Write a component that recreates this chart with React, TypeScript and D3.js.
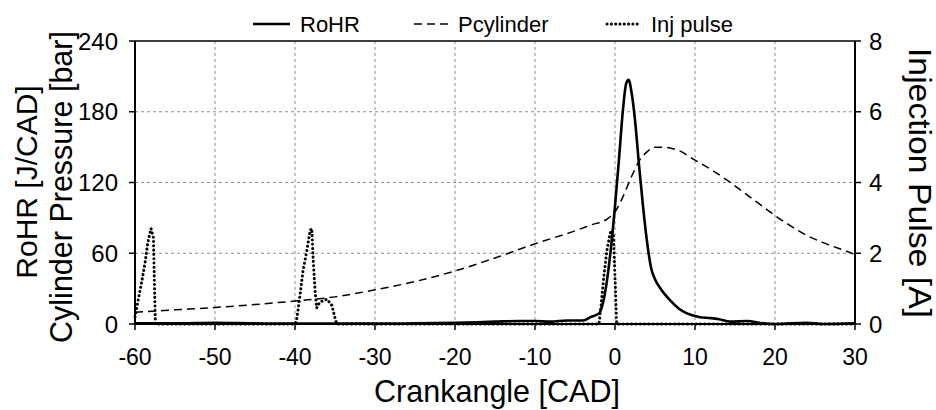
import React from "react";
import * as d3 from "d3";

const xTicks = [-60, -50, -40, -30, -20, -10, 0, 10, 20, 30];
const leftTicks = [0, 60, 120, 180, 240];
const rightTicks = [0, 2, 4, 6, 8];

const rohrCad = [-60, -55, -50, -45, -40, -35, -30, -25, -20, -15, -12, -10, -8, -6, -4, -3, -2, -1.5, -1, -0.5, 0, 0.5, 1, 1.4, 1.7, 2.1, 2.5, 3, 3.5, 4, 4.5, 5, 5.6, 6.9, 8, 9, 10.5, 12, 13, 14.4, 16.5, 18.5, 20, 24, 26, 30];
const rohrVal = [0.5, 0.5, 1, 0.5, 0.3, 0.3, 0.3, 0.5, 1, 2, 2.5, 2.5, 2, 3, 3, 6, 9, 18, 37, 65, 100, 140, 182, 204, 207, 195, 173, 135, 100, 70, 48, 38, 31, 20, 13, 9, 6, 5, 4, 2, 2.5, 0.5, 0, 1, 0, 0.5];

const pcylCad = [-60, -55, -50, -45, -40, -35, -30, -25, -20, -15, -10, -5, -3, -1, 0, 1, 2, 3, 4, 5, 6, 7, 8, 10, 12, 14, 16, 18, 20, 22, 24, 26, 28, 30];
const pcylVal = [10, 12, 14, 16.5, 19.5, 23, 29, 36, 45, 56, 68, 79, 84, 89, 95, 108, 124, 138, 146, 150, 150, 149, 147, 139, 131, 122, 112, 102, 92, 83, 75, 69, 64, 59];

const injCad = [-60, -59.6, -59.1, -58.75, -58.4, -58, -57.7, -57.6, -57.45, -40, -39.8, -39.4, -39, -38.5, -38.1, -37.9, -37.75, -37.5, -37.3, -36.9, -36, -35.4, -35, -34.8, -2, -1.75, -1.4, -1, -0.6, -0.4, -0.2, 0.05, 0.2, 30];
const injVal = [0.2, 0.68, 1.27, 1.72, 2.3, 2.7, 2.45, 1.4, 0, 0, 0.1, 0.76, 1.5, 2.1, 2.65, 2.7, 1.9, 0.96, 0.45, 0.62, 0.7, 0.53, 0.17, 0, 0, 0.5, 1.33, 2.1, 2.57, 2.65, 2.5, 1.0, 0, 0];

const W = 936, H = 410;
const L = 135, R = 855, T = 41, B = 324;
const FONT = "Liberation Sans, Arial, sans-serif";

export default function App() {
  const x = d3.scaleLinear().domain([-60, 30]).range([L, R]);
  const yL = d3.scaleLinear().domain([0, 240]).range([B, T]);
  const yR = d3.scaleLinear().domain([0, 8]).range([B, T]);

  const rohrLine = d3.line<number>().x((_, i) => x(rohrCad[i])).y((d) => yL(d)).curve(d3.curveMonotoneX)(rohrVal) || "";
  const pcylLine = d3.line<number>().x((_, i) => x(pcylCad[i])).y((d) => yL(d)).curve(d3.curveMonotoneX)(pcylVal) || "";
  const injLine = d3.line<number>().x((_, i) => x(injCad[i])).y((d) => yR(d))(injVal) || "";

  return (
    <svg width={W} height={H} style={{ position: "absolute", left: 0, top: 0 }} fontFamily={FONT}>
      <rect width={W} height={H} fill="#fff" />
      {xTicks.slice(1, -1).map((t) => (
        <line key={"gx" + t} x1={x(t)} x2={x(t)} y1={T} y2={B} stroke="#8c8c8c" strokeWidth={1} strokeDasharray="3,3" />
      ))}
      {leftTicks.slice(1, -1).map((t) => (
        <line key={"gy" + t} x1={L} x2={R} y1={yL(t)} y2={yL(t)} stroke="#8c8c8c" strokeWidth={1} strokeDasharray="3,3" />
      ))}
      <path d={pcylLine} fill="none" stroke="#000" strokeWidth={1.5} strokeDasharray="8,5" />
      <path d={injLine} fill="none" stroke="#000" strokeWidth={3} strokeDasharray="0.1,4.2" strokeLinecap="round" />
      <path d={rohrLine} fill="none" stroke="#000" strokeWidth={2.6} />
      <line x1={L} x2={R} y1={T} y2={T} stroke="#000" strokeWidth={1.5} />
      <line x1={L} x2={R} y1={B} y2={B} stroke="#000" strokeWidth={2} />
      <line x1={L} x2={L} y1={T} y2={B} stroke="#000" strokeWidth={2} />
      <line x1={R} x2={R} y1={T} y2={B} stroke="#000" strokeWidth={2} />
      {xTicks.map((t) => (
        <g key={"xt" + t}>
          <line x1={x(t)} x2={x(t)} y1={B} y2={B + 6} stroke="#000" strokeWidth={1.5} />
          <text x={x(t)} y={365} fontSize={23} textAnchor="middle">{t}</text>
        </g>
      ))}
      {leftTicks.map((t) => (
        <g key={"lt" + t}>
          <line x1={L - 6} x2={L} y1={yL(t)} y2={yL(t)} stroke="#000" strokeWidth={1.5} />
          <text x={L - 17} y={yL(t) + 8.5} fontSize={24} textAnchor="end">{t}</text>
        </g>
      ))}
      {rightTicks.map((t) => (
        <g key={"rt" + t}>
          <line x1={R} x2={R + 6} y1={yR(t)} y2={yR(t)} stroke="#000" strokeWidth={1.5} />
          <text x={R + 14} y={yR(t) + 8.5} fontSize={24} textAnchor="start">{t}</text>
        </g>
      ))}
      <text x={497} y={402} fontSize={30.5} textAnchor="middle">Crankangle [CAD]</text>
      <text transform={`translate(37,182) rotate(-90)`} fontSize={30} textAnchor="middle">RoHR [J/CAD]</text>
      <text transform={`translate(72,187) rotate(-90)`} fontSize={30.5} textAnchor="middle">Cylinder Pressure [bar]</text>
      <text transform={`translate(909,183) rotate(90)`} fontSize={31} textAnchor="middle" textLength={270} lengthAdjust="spacingAndGlyphs">Injection Pulse [A]</text>
      <line x1={253} x2={290} y1={24} y2={24} stroke="#000" strokeWidth={2.6} />
      <text x={300} y={32} fontSize={22}>RoHR</text>
      <line x1={414} x2={448} y1={24} y2={24} stroke="#000" strokeWidth={1.5} strokeDasharray="8,5" />
      <text x={458} y={32} fontSize={22}>Pcylinder</text>
      <line x1={607} x2={641} y1={24} y2={24} stroke="#000" strokeWidth={3} strokeDasharray="0.1,4.2" strokeLinecap="round" />
      <text x={651} y={32} fontSize={22}>Inj pulse</text>
    </svg>
  );
}
